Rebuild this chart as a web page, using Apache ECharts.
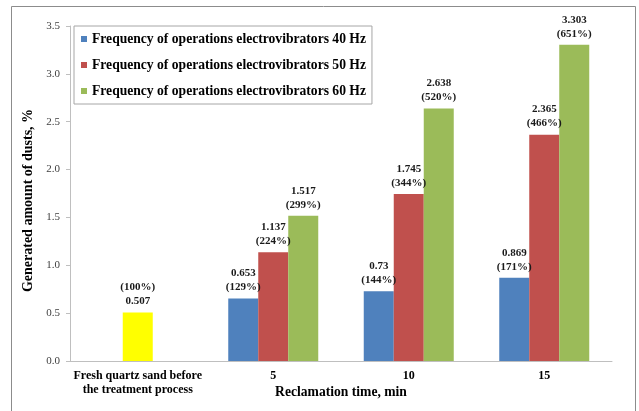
<!DOCTYPE html>
<html>
<head>
<meta charset="utf-8">
<script src="https://cdn.jsdelivr.net/npm/echarts@6/dist/echarts.min.js"></script>
<style>
  html, body { margin: 0; padding: 0; background: #fff; }
  #chart { width: 639px; height: 411px; }
</style>
</head>
<body>
<div id="chart"></div>
<script>
// categories on the x axis
const categories = ["Fresh quartz sand before\nthe treatment process", "5", "10", "15"];
const seriesNames = [
  "Frequency of operations electrovibrators 40 Hz",
  "Frequency of operations electrovibrators 50 Hz",
  "Frequency of operations electrovibrators 60 Hz"
];
// generated amount of dusts, %
const hz40 = ["-", 0.653, 0.73, 0.869];
const hz50 = ["-", 1.137, 1.745, 2.365];
const hz60 = ["-", 1.517, 2.638, 3.303];
const freshSand = [0.507, "-", "-", "-"];
// percentages shown in labels
const pct40 = [null, 129, 144, 171];
const pct50 = [null, 224, 344, 466];
const pct60 = [null, 299, 520, 651];
const pctFresh = [100, null, null, null];
const yTicks = [0, 0.5, 1.0, 1.5, 2.0, 2.5, 3.0, 3.5];

const font = "'Liberation Serif', 'Times New Roman', serif";
const colors = ["#4F81BD", "#C0504D", "#9BBB59", "#FFFF00"];

const labelStyle = {
  show: true,
  position: "top",
  distance: 4,
  fontFamily: font,
  fontWeight: "bold",
  fontSize: 11,
  lineHeight: 14,
  color: "#1a1a1a"
};

function barSeries(name, data, pct, color, stack) {
  return {
    name: name,
    type: "bar",
    data: data,
    barWidth: 30,
    barGap: "0%",
    stack: stack,
    itemStyle: { color: color },
    label: Object.assign({}, labelStyle, {
      formatter: (p) => p.value + "\n(" + pct[p.dataIndex] + "%)"
    })
  };
}

const chart = echarts.init(document.getElementById("chart"));

// yellow bar sits in the middle slot (stacked with the 50 Hz series)
const freshSeries = barSeries("Fresh", freshSand, pctFresh, colors[3], "mid");
freshSeries.label.formatter = (p) => "(" + pctFresh[p.dataIndex] + "%)\n" + p.value;

chart.setOption({
  animation: false,
  graphic: [{
    type: "rect",
    shape: { x: 11.5, y: 6.5, width: 624, height: 410 },
    style: { fill: "none", stroke: "#8c8c8c", lineWidth: 1 },
    silent: true
  }],
  legend: {
    data: seriesNames,
    orient: "vertical",
    left: 74,
    top: 26,
    padding: [6, 6, 6, 7],
    itemGap: 12,
    itemWidth: 6,
    itemHeight: 6,
    icon: "rect",
    backgroundColor: "#fff",
    borderColor: "#a6a6a6",
    borderWidth: 1,
    textStyle: {
      fontFamily: font,
      fontWeight: "bold",
      fontSize: 13.6,
      lineHeight: 14,
      color: "#000"
    }
  },
  grid: { left: 70, right: 27, top: 26, bottom: 50, outerBoundsMode: "none" },
  xAxis: {
    type: "category",
    data: categories,
    name: "Reclamation time, min",
    nameLocation: "middle",
    nameGap: 24,
    nameMoveOverlap: false,
    nameTextStyle: { fontFamily: font, fontWeight: "bold", fontSize: 13.6, color: "#000" },
    axisLine: { lineStyle: { color: "#bfbfbf" } },
    axisTick: { length: 4, lineStyle: { color: "#bfbfbf" } },
    axisLabel: {
      margin: 8,
      fontFamily: font,
      fontWeight: "bold",
      fontSize: 12,
      lineHeight: 14,
      color: "#000",
      interval: 0
    }
  },
  yAxis: {
    type: "value",
    min: yTicks[0],
    max: yTicks[yTicks.length - 1],
    interval: 0.5,
    name: "Generated amount of dusts, %",
    nameLocation: "middle",
    nameGap: 32,
    nameTextStyle: {
      fontFamily: font, fontWeight: "bold", fontSize: 14, color: "#000",
      padding: [0, 14, 0, 0]
    },
    axisLine: { show: true, lineStyle: { color: "#bfbfbf" } },
    axisTick: { show: true, length: 4, lineStyle: { color: "#bfbfbf" } },
    splitLine: { show: false },
    axisLabel: {
      margin: 10,
      fontFamily: font,
      fontSize: 11,
      color: "#404040",
      formatter: (v) => v.toFixed(1)
    }
  },
  series: [
    barSeries(seriesNames[0], hz40, pct40, colors[0]),
    barSeries(seriesNames[1], hz50, pct50, colors[1], "mid"),
    freshSeries,
    barSeries(seriesNames[2], hz60, pct60, colors[2])
  ]
});
</script>
</body>
</html>
